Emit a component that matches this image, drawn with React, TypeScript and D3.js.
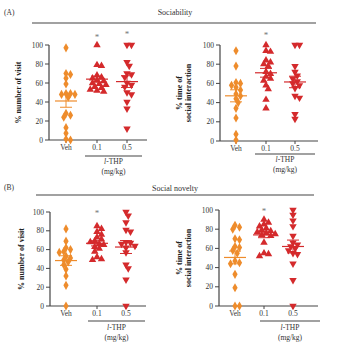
import React from "react";
import * as d3 from "d3";

const categories = ["Veh", "0.1", "0.5"];
const yTicks = [0, 20, 40, 60, 80, 100];

// Panel A left: % number of visit (Sociability)
const aVisitVeh = [97, 70, 69, 65, 59, 49, 49, 48, 48, 45, 28, 26, 24, 13, 7, 1, 0];
const aVisit01 = [100, 79, 78, 68, 66, 65, 63, 62, 60, 59, 58, 56, 55, 53, 52, 51];
const aVisit05 = [100, 100, 82, 78, 70, 69, 66, 60, 58, 56, 50, 48, 40, 33, 12];
const aVisitStars = [null, 110, 113];

// Panel A right: % time of social interaction
const aTimeVeh = [94, 78, 61, 60, 58, 56, 53, 49, 47, 44, 40, 34, 24, 7, 1];
const aTime01 = [100, 94, 93, 84, 82, 80, 78, 72, 70, 67, 65, 63, 58, 54, 43, 34];
const aTime05 = [100, 100, 78, 72, 68, 65, 62, 60, 58, 55, 47, 45, 28, 23];
const aTimeStars = [null, 111, null];

// Panel B left: % number of visit (Social novelty)
const bVisitVeh = [82, 69, 62, 60, 58, 57, 53, 51, 49, 47, 44, 39, 32, 22, 0];
const bVisit01 = [85, 82, 79, 76, 73, 71, 69, 68, 66, 65, 63, 61, 58, 52, 50, 49];
const bVisit05 = [100, 96, 89, 81, 79, 68, 67, 66, 64, 62, 57, 44, 40, 28, 0];
const bVisitStars = [null, 100, null];

// Panel B right: % time of social interaction
const bTimeVeh = [84, 82, 80, 70, 69, 62, 61, 58, 55, 47, 45, 44, 33, 19, 0, 0];
const bTime01 = [90, 87, 85, 83, 81, 79, 78, 77, 76, 75, 74, 73, 66, 55, 54, 52];
const bTime05 = [100, 95, 89, 83, 73, 66, 64, 62, 60, 58, 55, 54, 44, 27, 0];
const bTimeStars = [null, 100, null];

const ORANGE = "#EE8C2C";
const RED = "#D42A2C";
const AXIS = "#444";
const FONT = "'Liberation Serif', 'DejaVu Serif', serif";

type PanelProps = {
  x0: number;
  x1: number;
  yTop: number;
  yBot: number;
  catX: [number, number, number];
  groups: number[][];
  stars: (number | null)[];
  yLabel: string[];
  yLabelX: number;
  underline: [number, number, number];
  thpY: number;
};

function swarm(values: number[], y: d3.ScaleLinear<number, number>, r: number) {
  const sorted = values.map((v, i) => ({ v, i, py: y(v) })).sort((a, b) => a.py - b.py);
  const placed: { px: number; py: number; v: number }[] = [];
  for (const p of sorted) {
    const cands = [0];
    for (let k = 1; k < 8; k++) cands.push(k * r * 0.8, -k * r * 0.8);
    let best = 0;
    for (const c of cands) {
      const ok = placed.every((q) => (q.px - c) ** 2 + (q.py - p.py) ** 2 >= (r * 1.4) ** 2);
      if (ok) {
        best = c;
        break;
      }
    }
    placed.push({ px: best, py: p.py, v: p.v });
  }
  return placed;
}

function Panel(props: PanelProps) {
  const { x0, x1, yTop, yBot, catX, groups, stars, yLabel, yLabelX, underline, thpY } = props;
  const y = d3.scaleLinear().domain([0, 100]).range([yBot, yTop]);
  const x = d3.scaleOrdinal<string, number>().domain(categories).range(catX);
  const tri = d3.symbol().type(d3.symbolTriangle).size(24)();
  const dia = d3.symbol().type(d3.symbolDiamond).size(24)();
  const yMid = (yTop + yBot) / 2;
  return (
    <g>
      <line x1={x0} x2={x0} y1={yTop} y2={yBot} stroke={AXIS} strokeWidth={1.2} />
      {yTicks.map((t) => (
        <g key={t}>
          <line x1={x0 - 4} x2={x0} y1={y(t)} y2={y(t)} stroke={AXIS} strokeWidth={1} />
          <text x={x0 - 6} y={y(t) + 2.5} fontSize={7.5} textAnchor="end" fill="#333" fontFamily={FONT}>
            {t}
          </text>
        </g>
      ))}
      <line x1={x0} x2={x1} y1={yBot} y2={yBot} stroke={AXIS} strokeWidth={1.2} />
      {categories.map((c) => (
        <g key={c}>
          <line x1={x(c)} x2={x(c)} y1={yBot} y2={yBot + 3} stroke={AXIS} strokeWidth={1} />
          <text x={x(c)} y={yBot + 10} fontSize={7.5} textAnchor="middle" fill="#333" fontFamily={FONT}>
            {c}
          </text>
        </g>
      ))}
      <line x1={underline[0]} x2={underline[1]} y1={underline[2]} y2={underline[2]} stroke={AXIS} strokeWidth={1.2} />
      <text x={(underline[0] + underline[1]) / 2} y={thpY} fontSize={7.5} textAnchor="middle" fill="#333" fontFamily={FONT}>
        <tspan fontStyle="italic">l</tspan>-THP
      </text>
      <text x={(underline[0] + underline[1]) / 2} y={thpY + 9.5} fontSize={7.5} textAnchor="middle" fill="#333" fontFamily={FONT}>
        (mg/kg)
      </text>
      {yLabel.map((l, i) => (
        <text
          key={i}
          transform={`translate(${yLabelX + i * 9},${yMid}) rotate(-90)`}
          fontSize={8}
          fontWeight="bold"
          textAnchor="middle"
          fill="#222"
          fontFamily={FONT}
        >
          {l}
        </text>
      ))}
      {groups.map((vals, gi) => {
        const cx = x(categories[gi]);
        const color = gi === 0 ? ORANGE : RED;
        const pts = swarm(vals, y, 2.8);
        const m = d3.mean(vals) as number;
        const sem = (d3.deviation(vals) as number) / Math.sqrt(vals.length);
        const s = stars[gi];
        return (
          <g key={gi}>
            {pts.map((p, i) => (
              <path
                key={i}
                d={gi === 0 ? dia : tri}
                transform={`translate(${cx + p.px},${p.py})${gi === 2 ? " rotate(180)" : ""}`}
                fill={color}
              />
            ))}
            <line x1={cx - 11} x2={cx + 11} y1={y(m)} y2={y(m)} stroke={color} strokeWidth={1.2} />
            <line x1={cx} x2={cx} y1={y(m + sem)} y2={y(m - sem)} stroke={color} strokeWidth={1} />
            <line x1={cx - 6} x2={cx + 6} y1={y(m + sem)} y2={y(m + sem)} stroke={color} strokeWidth={1} />
            <line x1={cx - 6} x2={cx + 6} y1={y(m - sem)} y2={y(m - sem)} stroke={color} strokeWidth={1} />
            {s != null ? (
              <text x={cx} y={y(s) + 4} fontSize={9} textAnchor="middle" fill="#777" fontFamily={FONT}>
                *
              </text>
            ) : null}
          </g>
        );
      })}
    </g>
  );
}

export default function App() {
  return (
    <svg width={356} height={355} style={{ position: "absolute", left: 0, top: 0, background: "#fff" }}>
      <rect width={356} height={355} fill="#fff" />
      <text x={4} y={15} fontSize={7.5} fill="#333" fontFamily={FONT}>(A)</text>
      <text x={175} y={15} fontSize={8} textAnchor="middle" fill="#333" fontFamily={FONT}>Sociability</text>
      <line x1={32} x2={316} y1={23} y2={23} stroke={AXIS} strokeWidth={1.2} />
      <text x={4} y={190} fontSize={7.5} fill="#333" fontFamily={FONT}>(B)</text>
      <text x={175} y={191} fontSize={8} textAnchor="middle" fill="#333" fontFamily={FONT}>Social novelty</text>
      <line x1={36} x2={314} y1={195} y2={195} stroke={AXIS} strokeWidth={1.2} />

      <Panel x0={49} x1={147} yTop={45} yBot={140} catX={[66, 97, 127]}
        groups={[aVisitVeh, aVisit01, aVisit05]} stars={aVisitStars} yLabel={["% number of visit"]} yLabelX={21}
        underline={[85, 142, 156]} thpY={164} />
      <Panel x0={220} x1={318} yTop={45} yBot={141} catX={[236, 266, 295]}
        groups={[aTimeVeh, aTime01, aTime05]} stars={aTimeStars} yLabel={["% time of", "social interaction"]} yLabelX={182}
        underline={[255, 315, 154]} thpY={162} />
      <Panel x0={50} x1={146} yTop={212} yBot={306} catX={[66, 97, 126]}
        groups={[bVisitVeh, bVisit01, bVisit05]} stars={bVisitStars} yLabel={["% number of visit"]} yLabelX={24}
        underline={[88, 145, 321]} thpY={330} />
      <Panel x0={219} x1={318} yTop={210} yBot={306} catX={[235, 264, 293]}
        groups={[bTimeVeh, bTime01, bTime05]} stars={bTimeStars} yLabel={["% time of", "social interaction"]} yLabelX={182}
        underline={[260, 320, 321]} thpY={330} />
    </svg>
  );
}
